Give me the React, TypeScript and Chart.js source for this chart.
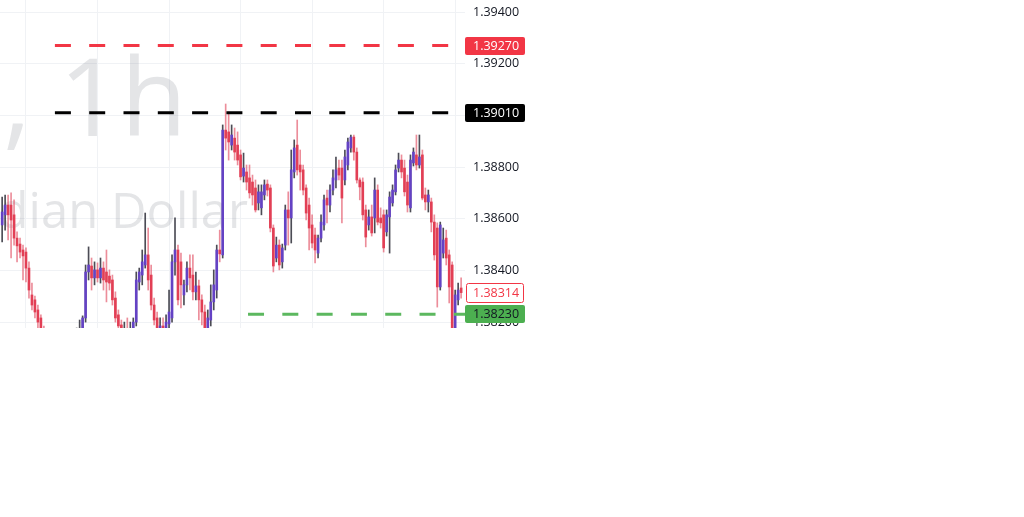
import { useEffect, useRef } from "react";
import { Chart, registerables } from "chart.js";

Chart.register(...registerables);

// ---- data -------------------------------------------------------------
const FIRST_INDEX = -8; // hourly bar index of the first visible candle

const OPEN = [
  1.38576, 1.38615, 1.38653, 1.38653, 1.38615, 1.38525, 1.38502, 1.38479, 1.38471, 1.38409,
  1.38305, 1.38286, 1.38247, 1.38216, 1.38169, 1.38138, 1.38111, 1.38131, 1.38092, 1.38069,
  1.38100, 1.38084, 1.38123, 1.38108, 1.38138, 1.38123, 1.38146, 1.38154, 1.38216, 1.38394,
  1.38417, 1.38371, 1.38402, 1.38371, 1.38409, 1.38394, 1.38378, 1.38363, 1.38293, 1.38228,
  1.38189, 1.38150, 1.38169, 1.38146, 1.38162, 1.38200, 1.38355, 1.38382, 1.38421, 1.38460,
  1.38382, 1.38266, 1.38216, 1.38169, 1.38185, 1.38162, 1.38193, 1.38216, 1.38433, 1.38479,
  1.38433, 1.38305, 1.38344, 1.38409, 1.38382, 1.38317, 1.38340, 1.38286, 1.38239, 1.38169,
  1.38208, 1.38278, 1.38324, 1.38479, 1.38460, 1.38943, 1.38936, 1.38885, 1.38912, 1.38885,
  1.38847, 1.38765, 1.38781, 1.38758, 1.38742, 1.38719, 1.38661, 1.38642, 1.38692, 1.38734,
  1.38719, 1.38564, 1.38448, 1.38498, 1.38433, 1.38498, 1.38634, 1.38603, 1.38781, 1.38885,
  1.38808, 1.38789, 1.38719, 1.38653, 1.38576, 1.38537, 1.38467, 1.38525, 1.38576, 1.38680,
  1.38653, 1.38711, 1.38750, 1.38796, 1.38796, 1.38750, 1.38808, 1.38874, 1.38916, 1.38858,
  1.38750, 1.38742, 1.38634, 1.38576, 1.38607, 1.38603, 1.38711, 1.38603, 1.38615, 1.38549,
  1.38607, 1.38661, 1.38704, 1.38796, 1.38827, 1.38796, 1.38742, 1.38642, 1.38816, 1.38847,
  1.38808, 1.38847, 1.38692, 1.38665, 1.38665, 1.38587, 1.38564, 1.38336, 1.38467, 1.38525,
  1.38460, 1.38421, 1.38150, 1.38286, 1.38332,
];

const HIGH = [
  1.38684, 1.38692, 1.38692, 1.38700, 1.38673, 1.38549, 1.38525, 1.38498, 1.38487, 1.38433,
  1.38351, 1.38301, 1.38266, 1.38228, 1.38185, 1.38162, 1.38150, 1.38158, 1.38123, 1.38131,
  1.38138, 1.38150, 1.38154, 1.38169, 1.38169, 1.38177, 1.38208, 1.38224, 1.38421, 1.38491,
  1.38448, 1.38433, 1.38429, 1.38448, 1.38433, 1.38479, 1.38402, 1.38382, 1.38317, 1.38247,
  1.38208, 1.38200, 1.38216, 1.38200, 1.38216, 1.38394, 1.38409, 1.38479, 1.38622, 1.38564,
  1.38421, 1.38293, 1.38239, 1.38216, 1.38216, 1.38228, 1.38324, 1.38460, 1.38603, 1.38498,
  1.38467, 1.38363, 1.38433, 1.38460, 1.38460, 1.38394, 1.38363, 1.38305, 1.38266, 1.38247,
  1.38344, 1.38402, 1.38498, 1.38556, 1.38963, 1.39044, 1.39013, 1.38963, 1.38951, 1.38936,
  1.38866, 1.38854, 1.38808, 1.38808, 1.38769, 1.38750, 1.38731, 1.38731, 1.38750, 1.38750,
  1.38731, 1.38576, 1.38529, 1.38518, 1.38502, 1.38653, 1.38704, 1.38866, 1.38905, 1.38982,
  1.38866, 1.38808, 1.38731, 1.38680, 1.38615, 1.38564, 1.38537, 1.38615, 1.38692, 1.38711,
  1.38731, 1.38789, 1.38839, 1.38827, 1.38827, 1.38866, 1.38912, 1.38924, 1.38924, 1.38874,
  1.38758, 1.38758, 1.38653, 1.38634, 1.38653, 1.38758, 1.38731, 1.38642, 1.38634, 1.38634,
  1.38704, 1.38731, 1.38808, 1.38854, 1.38847, 1.38827, 1.38769, 1.38847, 1.38874, 1.38924,
  1.38924, 1.38866, 1.38719, 1.38711, 1.38680, 1.38615, 1.38584, 1.38587, 1.38564, 1.38556,
  1.38479, 1.38433, 1.38324, 1.38351, 1.38371,
];

const LOW = [
  1.38510, 1.38556, 1.38518, 1.38448, 1.38498, 1.38433, 1.38448, 1.38363, 1.38355, 1.38293,
  1.38247, 1.38216, 1.38177, 1.38131, 1.38111, 1.38084, 1.38073, 1.38061, 1.38046, 1.38046,
  1.38061, 1.38061, 1.38084, 1.38092, 1.38100, 1.38108, 1.38123, 1.38138, 1.38200, 1.38363,
  1.38324, 1.38344, 1.38355, 1.38351, 1.38324, 1.38278, 1.38324, 1.38266, 1.38200, 1.38169,
  1.38131, 1.38131, 1.38123, 1.38131, 1.38146, 1.38185, 1.38324, 1.38344, 1.38409, 1.38324,
  1.38247, 1.38189, 1.38146, 1.38146, 1.38146, 1.38138, 1.38177, 1.38200, 1.38382, 1.38266,
  1.38255, 1.38266, 1.38317, 1.38324, 1.38286, 1.38286, 1.38208, 1.38189, 1.38150, 1.38146,
  1.38185, 1.38247, 1.38293, 1.38433, 1.38448, 1.38866, 1.38827, 1.38866, 1.38827, 1.38808,
  1.38750, 1.38742, 1.38711, 1.38680, 1.38653, 1.38626, 1.38634, 1.38615, 1.38673, 1.38688,
  1.38549, 1.38394, 1.38433, 1.38402, 1.38409, 1.38479, 1.38498, 1.38506, 1.38758, 1.38769,
  1.38711, 1.38692, 1.38595, 1.38479, 1.38487, 1.38429, 1.38448, 1.38510, 1.38556, 1.38584,
  1.38626, 1.38692, 1.38719, 1.38750, 1.38584, 1.38731, 1.38789, 1.38858, 1.38827, 1.38738,
  1.38673, 1.38595, 1.38491, 1.38556, 1.38533, 1.38545, 1.38576, 1.38564, 1.38471, 1.38533,
  1.38467, 1.38649, 1.38692, 1.38781, 1.38758, 1.38688, 1.38626, 1.38626, 1.38804, 1.38789,
  1.38796, 1.38673, 1.38634, 1.38626, 1.38549, 1.38440, 1.38258, 1.38324, 1.38448, 1.38421,
  1.38274, 1.38111, 1.38131, 1.38266, 1.38293,
];

const CLOSE = [
  1.38626, 1.38653, 1.38615, 1.38595, 1.38525, 1.38495, 1.38471, 1.38456, 1.38409, 1.38324,
  1.38266, 1.38239, 1.38200, 1.38169, 1.38138, 1.38111, 1.38131, 1.38092, 1.38069, 1.38100,
  1.38084, 1.38123, 1.38108, 1.38138, 1.38123, 1.38146, 1.38162, 1.38216, 1.38394, 1.38421,
  1.38371, 1.38402, 1.38371, 1.38409, 1.38363, 1.38355, 1.38351, 1.38286, 1.38216, 1.38185,
  1.38150, 1.38169, 1.38146, 1.38169, 1.38200, 1.38363, 1.38394, 1.38433, 1.38460, 1.38363,
  1.38266, 1.38208, 1.38162, 1.38185, 1.38162, 1.38200, 1.38239, 1.38433, 1.38479, 1.38286,
  1.38344, 1.38344, 1.38409, 1.38371, 1.38317, 1.38340, 1.38286, 1.38239, 1.38177, 1.38216,
  1.38278, 1.38344, 1.38479, 1.38464, 1.38943, 1.38912, 1.38897, 1.38924, 1.38858, 1.38827,
  1.38762, 1.38796, 1.38742, 1.38700, 1.38692, 1.38634, 1.38704, 1.38704, 1.38731, 1.38711,
  1.38564, 1.38417, 1.38498, 1.38421, 1.38487, 1.38634, 1.38603, 1.38789, 1.38874, 1.38789,
  1.38781, 1.38711, 1.38622, 1.38564, 1.38506, 1.38479, 1.38525, 1.38587, 1.38673, 1.38653,
  1.38711, 1.38758, 1.38789, 1.38769, 1.38680, 1.38839, 1.38897, 1.38916, 1.38858, 1.38750,
  1.38723, 1.38615, 1.38529, 1.38607, 1.38545, 1.38711, 1.38587, 1.38584, 1.38487, 1.38615,
  1.38684, 1.38711, 1.38789, 1.38827, 1.38781, 1.38704, 1.38653, 1.38827, 1.38858, 1.38808,
  1.38839, 1.38680, 1.38665, 1.38692, 1.38587, 1.38460, 1.38336, 1.38576, 1.38518, 1.38448,
  1.38336, 1.38131, 1.38305, 1.38324, 1.38314,
];

const DAY_BREAKS = [0, 24, 48, 72, 96, 120, 144];
const PRICE_TICKS = [1.382, 1.384, 1.386, 1.388, 1.39, 1.392, 1.394];

const LEVEL_PRICES = [1.3927, 1.3901, 1.3823]; // red, black, green levels
const LEVEL_STARTS = [9.7, 9.7, 74.5]; // bar index where each level line starts

const WATERMARK_LINES = ["USDCAD, 1h", "U.S. Dollar / Canadian Dollar"];

// ---- view window -------------------------------------------------------
const X_MIN = -8.72;
const X_MAX = 147.3;
const Y_MIN = 1.381771;
const Y_MAX = 1.394465;

// ---- styles ------------------------------------------------------------
const UP = "#6442c4";
const DOWN = "#e23f55";
const UP_WICK = "rgba(45,45,55,0.85)";
const DOWN_WICK = "rgba(226,80,100,0.65)";
const RED = "#f23645";
const GREEN_TAG = "#4caf50";
const GREEN_LINE = "#5cb85f";
const GRID = "#f0f2f5";
const TEXT = "#131722";
const FONT = "'Open Sans', Roboto, sans-serif";

export default function App() {
  const ref = useRef<HTMLCanvasElement | null>(null);

  useEffect(() => {
    if (!ref.current) return;
    const idx = OPEN.map((_, k) => FIRST_INDEX + k);
    const up = OPEN.map((o, k) => CLOSE[k] >= o);
    const last = CLOSE.length - 1;
    const lastUp = up[last];
    const levelColors = [RED, "#000000", GREEN_LINE];

    const watermark = {
      id: "watermark",
      beforeDatasetsDraw(chart: any) {
        const { ctx, chartArea } = chart;
        ctx.save();
        ctx.beginPath();
        ctx.rect(chartArea.left, chartArea.top, chartArea.right - chartArea.left, chartArea.bottom - chartArea.top);
        ctx.clip();
        ctx.fillStyle = "rgba(120,123,134,0.2)";
        ctx.textAlign = "right";
        ctx.textBaseline = "alphabetic";
        ctx.font = `108px ${FONT}`;
        ctx.fillText(WATERMARK_LINES[0], 187, 136);
        ctx.font = `49px ${FONT}`;
        ctx.fillText(WATERMARK_LINES[1], 248, 228);
        ctx.restore();
      },
    };

    const tags = {
      id: "tags",
      afterDraw(chart: any) {
        const { ctx, chartArea } = chart;
        const ys = chart.scales.y;
        const x0 = chartArea.right;
        const draw = (value: number, bg: string, fg: string, border?: string) => {
          const y = Math.round(ys.getPixelForValue(value));
          ctx.save();
          ctx.beginPath();
          if (border) {
            ctx.roundRect(x0 + 1.5, y - 9.5, 57, 19, 2);
            ctx.fillStyle = bg;
            ctx.fill();
            ctx.lineWidth = 1;
            ctx.strokeStyle = border;
            ctx.stroke();
          } else {
            ctx.roundRect(x0, y - 9, 60, 18, 2);
            ctx.fillStyle = bg;
            ctx.fill();
          }
          ctx.fillStyle = fg;
          ctx.font = `12.5px ${FONT}`;
          ctx.textAlign = "left";
          ctx.textBaseline = "middle";
          ctx.fillText(value.toFixed(5), x0 + 8, y + 0.5);
          ctx.restore();
        };
        draw(LEVEL_PRICES[0], RED, "#ffffff");
        draw(LEVEL_PRICES[1], "#000000", "#ffffff");
        draw(CLOSE[last], "#ffffff", lastUp ? UP : RED, lastUp ? UP : RED);
        draw(LEVEL_PRICES[2], GREEN_TAG, TEXT);
      },
    };

    const chart = new Chart(ref.current, {
      type: "bar",
      data: {
        datasets: [
          ...LEVEL_PRICES.map((p, k) => ({
            type: "line" as const,
            data: [
              { x: LEVEL_STARTS[k], y: p },
              { x: X_MAX + 5, y: p },
            ],
            borderColor: levelColors[k],
            borderWidth: 3,
            borderDash: [16, 18.3],
            pointRadius: 0,
            fill: false,
            order: 0,
          })),
          {
            type: "bar" as const,
            data: idx.map((x, k) => ({ x, y: [OPEN[k], CLOSE[k]] })),
            backgroundColor: up.map((u) => (u ? UP : DOWN)),
            borderWidth: 0,
            barThickness: 2,
            minBarLength: 1,
            grouped: false,
            order: 1,
          },
          {
            type: "bar" as const,
            data: idx.map((x, k) => ({ x, y: [LOW[k], HIGH[k]] })),
            backgroundColor: up.map((u) => (u ? UP_WICK : DOWN_WICK)),
            borderWidth: 0,
            barThickness: 1,
            grouped: false,
            order: 2,
          },
        ] as any,
      },
      options: {
        animation: false,
        responsive: true,
        maintainAspectRatio: false,
        layout: { padding: 0 },
        plugins: { legend: { display: false }, tooltip: { enabled: false }, title: { display: false } },
        scales: {
          x: {
            type: "linear",
            min: X_MIN,
            max: X_MAX,
            offset: false,
            grid: { color: GRID, drawTicks: false, offset: false },
            border: { display: false },
            ticks: { display: false },
            afterBuildTicks: (s: any) => {
              s.ticks = DAY_BREAKS.map((v) => ({ value: v }));
            },
          },
          y: {
            position: "right",
            min: Y_MIN,
            max: Y_MAX,
            beginAtZero: false,
            grid: { color: GRID, drawTicks: false },
            border: { display: false },
            ticks: {
              padding: 8,
              color: TEXT,
              font: { family: FONT, size: 12.5 },
              callback: (v: any) => Number(v).toFixed(5),
            },
            afterBuildTicks: (s: any) => {
              s.ticks = PRICE_TICKS.map((v) => ({ value: v }));
            },
            afterFit: (s: any) => {
              s.width = 65;
              s.paddingTop = 0;
              s.paddingBottom = 0;
            },
          },
        } as any,
      },
      plugins: [watermark, tags],
    });
    return () => chart.destroy();
  }, []);

  return (
    <div style={{ position: "absolute", left: 0, top: 0, width: 530, height: 328, background: "#ffffff" }}>
      <canvas ref={ref} />
    </div>
  );
}
